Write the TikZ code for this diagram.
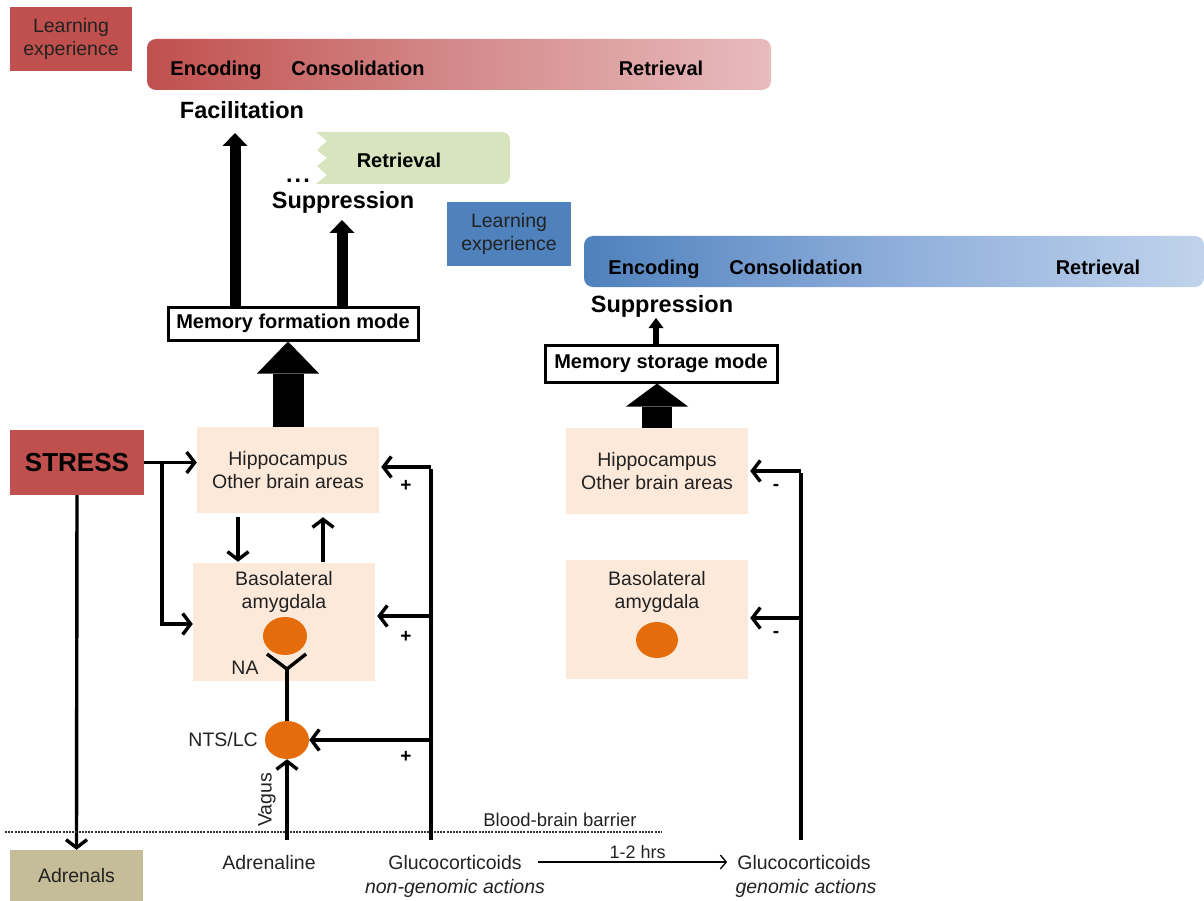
\documentclass[tikz,border=0pt]{standalone}
\usepackage{fontspec}
\setmainfont{Liberation Sans}
\usetikzlibrary{arrows.meta,shapes.geometric}
\definecolor{stressred}{HTML}{C0504D}
\definecolor{redlight}{HTML}{E8BBBD}
\definecolor{redmid}{HTML}{D48A8B}
\definecolor{lebleu}{HTML}{4F81BD}
\definecolor{bluelight}{HTML}{C0D3EC}
\definecolor{bluemid}{HTML}{8EAEDA}
\definecolor{peach}{HTML}{FDE9D9}
\definecolor{orangedot}{HTML}{E46C0A}
\definecolor{greenfill}{HTML}{D7E4BD}
\definecolor{tanfill}{HTML}{C4BD97}
\definecolor{txt}{HTML}{222222}
\begin{document}
\begin{tikzpicture}[x=1pt,y=-1pt,
  lbl/.style={font=\fontsize{19.5}{23.5}\selectfont, text=txt, inner sep=0pt, align=center},
  bartxt/.style={font=\bfseries\fontsize{20}{24}\selectfont, inner sep=0pt, anchor=base},
  bigtxt/.style={font=\bfseries\fontsize{23.5}{28}\selectfont, inner sep=0pt, anchor=base},
  area/.style={fill=peach, inner sep=0pt, minimum width=182pt},
  dot/.style={ellipse, fill=orangedot, inner sep=0pt, minimum width=44pt, minimum height=38pt},
  modebox/.style={draw=black, line width=3pt, fill=white, inner sep=0pt, font=\bfseries\fontsize{20}{24}\selectfont},
  conn/.style={line width=3.4pt, -{Straight Barb[length=8pt,width=21pt]}},
  plain/.style={line width=3.4pt},
  sign/.style={font=\bfseries\fontsize{19}{23}\selectfont, inner sep=0pt},
  thickarr/.style={line width=11pt, -{Triangle[width=25pt,length=13pt,line width=0pt]}},
  smallarr/.style={line width=6pt, -{Triangle[width=15pt,length=10pt,line width=0pt]}}
]
\useasboundingbox (0,0) rectangle (1204,901);

% ---------- top left: learning experience (red) ----------
\node[fill=stressred, minimum width=122pt, minimum height=64pt, lbl] (leR) at (71,39) {Learning\\experience};
\shade[left color=stressred, right color=redlight, middle color=redmid, rounded corners=9pt] (147,39) rectangle (771,90);
\node[bartxt] (encR) at (216,76) {Encoding};
\node[bartxt] (conR) at (358,76) {Consolidation};
\node[bartxt] (retR) at (661,76) {Retrieval};

\node[bigtxt] (facil) at (242,119) {Facilitation};

% green retrieval tab
\fill[greenfill] (327,175) -- (316,184) [rounded corners=8pt] -- (510,184) -- (510,132) [sharp corners] -- (316,132) -- (327,141) -- (317,150) -- (327,158) -- (317,166) -- cycle;
\node[bartxt] (retG) at (399,168) {Retrieval};
\node[bigtxt] (dots) at (298,183) {.\kern2pt.\kern2pt.};
\node[bigtxt] (suppL) at (343,209) {Suppression};

% memory formation mode
\node[modebox, minimum width=250pt, minimum height=33pt] (mfm) at (293,323.5) {Memory formation mode};
\coordinate (ftip) at (235,133);
\coordinate (stip) at (342,220);
\draw[thickarr] (mfm.north -| ftip) -- (ftip);
\draw[thickarr] (mfm.north -| stip) -- (stip);

% left brain areas
\node[area, minimum height=86pt, lbl] (hipL) at (288,470) {Hippocampus\\Other brain areas};
\node[area, minimum height=118pt] (blaL) at (284,622) {};
\node[lbl] (blaLt) at (284,592) {Basolateral\\amygdala};
\node[dot] (cellL) at (285,636) {};
\draw[line width=31pt, -{Triangle[width=62pt,length=32pt,line width=0pt]}] (hipL.north) -- (hipL.north |- mfm.south);

% hippocampus <-> BLA
\coordinate (hx1) at (238,0);
\coordinate (hx2) at (323,0);
\draw[conn, shorten <=4pt, shorten >=1pt] (hipL.south -| hx1) -- (blaL.north -| hx1);
\draw[conn, shorten <=1pt, shorten >=4pt] (blaL.north -| hx2) -- (hipL.south -| hx2);

% NTS/LC
\node[dot] (nts) at (287,740) {};
\node[lbl, anchor=east] (ntsl) at (258,740) {NTS/LC};
% receptor
\coordinate (rj) at (287,669);
\coordinate (ra) at (267,654);
\coordinate (rb) at (306,654);
\draw[plain, line join=miter] (ra) -- (rj) -- (rb);
\draw[plain] (rj) -- (nts.north);
\node[lbl] (na) at (245,668) {NA};

% STRESS
\node[fill=stressred, minimum width=134pt, minimum height=65pt, inner sep=0pt, font=\bfseries\fontsize{26}{30}\selectfont] (stress) at (77,462.5) {STRESS};
\draw[conn] (stress.east) -- (hipL.west |- stress.east);
\coordinate (sb) at (162,463);
\coordinate (sbl) at (162,624);
\draw[plain] (sb) -- (sbl);
\draw[conn] ([xshift=-1.7pt]sbl) -- (blaL.west |- sbl);

% Adrenals
\node[fill=tanfill, minimum width=133pt, minimum height=52pt, lbl] (adr) at (76.5,876) {Adrenals};
\draw[conn] (stress.south) -- (adr.north);

% blood-brain barrier
\coordinate (bbl) at (5,832);
\coordinate (bbr) at (662,832);
\draw[line width=1.2pt, dash pattern=on 2pt off 1.2pt, black!80] (bbl) -- (bbr);
\node[lbl, font=\fontsize{18.5}{22}\selectfont] (bbb) at (560,820) {Blood-brain barrier};

% bottom labels
\node[lbl, anchor=base] (adrenaline) at (269,869) {Adrenaline};
\node[lbl, anchor=base] (gc1) at (455,869) {Glucocorticoids};
\node[lbl, anchor=base, font=\itshape\fontsize{19.5}{23.5}\selectfont] (gc1b) at (455,893) {non-genomic actions};
\node[lbl, anchor=base] (gc2) at (804,869) {Glucocorticoids};
\node[lbl, anchor=base, font=\itshape\fontsize{19.5}{23.5}\selectfont] (gc2b) at (806,893) {genomic actions};
\coordinate (ha) at (538,862);
\draw[line width=1.3pt, -{Straight Barb[length=6pt,width=14pt]}, shorten >=10pt] (ha) -- (gc2.west |- ha) node[midway, above=3pt, lbl, font=\fontsize{18}{22}\selectfont] (hrs) {1-2 hrs};

% vagus
\coordinate (vag) at (287,840);
\draw[conn] (vag) -- (nts.south);
\node[lbl, rotate=90] (vagus) at (267,800) {Vagus};

% glucocorticoid (non-genomic) pathway
\coordinate (g1) at (431,840);
\coordinate (g1top) at (431,467);
\coordinate (g1m) at (431,616);
\coordinate (g1n) at (431,740);
\draw[plain] (g1) -- ([yshift=-1.7pt]g1top);
\draw[conn] (g1top) -- ([xshift=2pt]hipL.east |- g1top);
\draw[conn] (g1m) -- ([xshift=2pt]blaL.east |- g1m);
\draw[conn] (g1n) -- (nts.east);
\node[sign] (p1) at (406,486) {+};
\node[sign] (p2) at (406,637) {+};
\node[sign] (p3) at (406,757) {+};

% ---------- right: learning experience (blue) ----------
\node[fill=lebleu, minimum width=124pt, minimum height=64pt, lbl] (leB) at (509,234) {Learning\\experience};
\shade[left color=lebleu, right color=bluelight, middle color=bluemid, rounded corners=9pt] (584,236) rectangle (1204,287);
\node[bartxt] (encB) at (654,274) {Encoding};
\node[bartxt] (conB) at (796,274) {Consolidation};
\node[bartxt] (retB) at (1098,274) {Retrieval};
\node[bigtxt] (suppR) at (662,312) {Suppression};

\node[modebox, minimum width=232pt, minimum height=37pt] (msm) at (661,363.5) {Memory storage mode};
\coordinate (mtip) at (656,318);
\draw[smallarr] (msm.north -| mtip) -- (mtip);

\node[area, minimum height=86pt, lbl] (hipR) at (657,471) {Hippocampus\\Other brain areas};
\node[area, minimum height=119pt] (blaR) at (657,619.5) {};
\node[lbl] (blaRt) at (657,592) {Basolateral\\amygdala};
\node[dot, minimum width=42pt, minimum height=36pt] (cellR) at (657,640) {};
\draw[line width=30pt, -{Triangle[width=62pt,length=23pt,line width=0pt]}] (hipR.north) -- (hipR.north |- msm.south);

\coordinate (g2) at (801,840);
\coordinate (g2top) at (801,471);
\coordinate (g2m) at (801,618);
\draw[plain] (g2) -- ([yshift=-1.7pt]g2top);
\draw[conn] (g2top) -- ([xshift=2pt]hipR.east |- g2top);
\draw[conn] (g2m) -- ([xshift=2pt]blaR.east |- g2m);
\node[sign] (m1) at (776,487) {-};
\node[sign] (m2) at (776,634) {-};
\end{tikzpicture}
\end{document}
